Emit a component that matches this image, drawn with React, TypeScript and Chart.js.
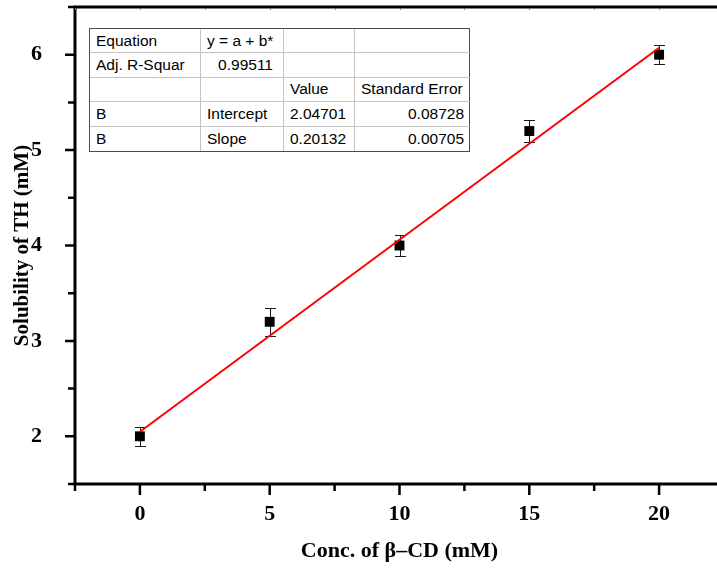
import React, { useEffect, useRef } from "react";
import { Chart, registerables } from "chart.js";

Chart.register(...registerables);

// ---- data ----
const concentrations = [0, 5, 10, 15, 20];
const solubility = [2.0, 3.2, 4.0, 5.2, 6.0];
const solubilityError = [0.1, 0.15, 0.11, 0.12, 0.1];
const fitX = [0, 20];
const fitY = [2.04701, 6.07341];
const xMajorTicks = [0, 5, 10, 15, 20];
const xMinorTicks = [-2.5, 2.5, 7.5, 12.5, 17.5, 22.5];
const yMajorTicks = [2, 3, 4, 5, 6];
const yMinorTicks = [1.5, 2.5, 3.5, 4.5, 5.5, 6.5];
const xTitle = "Conc. of β–CD (mM)";
const yTitle = "Solubility of TH (mM)";
const tableRows = [
  ["Equation", "y = a + b*", "", ""],
  ["Adj. R-Squar", "0.99511", "", ""],
  ["", "", "Value", "Standard Error"],
  ["B", "Intercept", "2.04701", "0.08728"],
  ["B", "Slope", "0.20132", "0.00705"],
];
const tableAlign = [
  ["left", "left", "left", "left"],
  ["left", "right", "left", "left"],
  ["left", "left", "left", "left"],
  ["left", "left", "left", "right"],
  ["left", "left", "left", "right"],
];

const SERIF = "'Liberation Serif', 'Times New Roman', serif";

const originAxes = {
  id: "originAxes",
  beforeDatasetsDraw(chart: any) {
    const { ctx, scales } = chart;
    const x = scales.x;
    const y = scales.y;
    ctx.save();
    ctx.strokeStyle = "#1a1a1a";
    ctx.lineWidth = 1;
    concentrations.forEach((cx, i) => {
      const px = Math.round(x.getPixelForValue(cx)) + 0.5;
      const top = Math.round(y.getPixelForValue(solubility[i] + solubilityError[i])) + 0.5;
      const bot = Math.round(y.getPixelForValue(solubility[i] - solubilityError[i])) + 0.5;
      ctx.beginPath();
      ctx.moveTo(px, top);
      ctx.lineTo(px, bot);
      ctx.moveTo(px - 5.5, top);
      ctx.lineTo(px + 5.5, top);
      ctx.moveTo(px - 5.5, bot);
      ctx.lineTo(px + 5.5, bot);
      ctx.stroke();
    });
    ctx.restore();
  },
  afterDraw(chart: any) {
    const { ctx, chartArea: a, scales } = chart;
    const x = scales.x;
    const y = scales.y;
    ctx.save();
    ctx.strokeStyle = "#000";
    // frame
    ctx.lineWidth = 3;
    ctx.beginPath();
    ctx.moveTo(a.left, a.top - 1.5);
    ctx.lineTo(a.left, a.bottom + 1.5);
    ctx.moveTo(a.left - 1.5, a.bottom);
    ctx.lineTo(a.right + 1.5, a.bottom);
    ctx.moveTo(a.right, a.bottom);
    ctx.lineTo(a.right, a.top);
    ctx.moveTo(a.right + 1.5, a.top);
    ctx.lineTo(a.left - 1.5, a.top);
    ctx.stroke();
    // bottom ticks
    ctx.lineWidth = 2.5;
    ctx.beginPath();
    xMajorTicks.forEach((v) => {
      const px = x.getPixelForValue(v);
      ctx.moveTo(px, a.bottom);
      ctx.lineTo(px, a.bottom + 11);
    });
    xMinorTicks.forEach((v) => {
      const px = x.getPixelForValue(v);
      ctx.moveTo(px, a.bottom);
      ctx.lineTo(px, a.bottom + 7);
    });
    // left ticks
    yMajorTicks.forEach((v) => {
      const py = y.getPixelForValue(v);
      ctx.moveTo(a.left, py);
      ctx.lineTo(a.left - 10, py);
    });
    yMinorTicks.forEach((v) => {
      const py = y.getPixelForValue(v);
      ctx.moveTo(a.left, py);
      ctx.lineTo(a.left - 7, py);
    });
    ctx.stroke();
    // faint top ticks
    ctx.strokeStyle = "#777";
    ctx.lineWidth = 1;
    ctx.beginPath();
    [...xMajorTicks, ...xMinorTicks].forEach((v) => {
      const px = Math.round(x.getPixelForValue(v)) + 0.5;
      ctx.moveTo(px, a.top + 1);
      ctx.lineTo(px, a.top + 3);
    });
    ctx.stroke();
    ctx.restore();
  },
};

function ResultTable() {
  const colWidths = [111, 83, 71, 115];
  return (
    <div
      style={{
        position: "absolute",
        left: 89,
        top: 28,
        width: 381,
        height: 124,
        boxSizing: "border-box",
        border: "1px solid #4a4a4a",
        background: "#fff",
        display: "grid",
        gridTemplateColumns: colWidths.map((w) => w + "px").join(" "),
        gridTemplateRows: "repeat(5, 1fr)",
        fontFamily: "'Liberation Sans', Arial, sans-serif",
        fontSize: 15.5,
        color: "#000",
      }}
    >
      {tableRows.map((row, r) =>
        row.map((cell, c) => (
          <div
            key={r + "-" + c}
            style={{
              boxSizing: "border-box",
              borderRight: c < 3 ? "1px solid #c4c4c4" : "none",
              borderBottom: r < 4 ? "1px solid #c4c4c4" : "none",
              display: "flex",
              alignItems: "center",
              justifyContent: tableAlign[r][c] === "right" ? "flex-end" : "flex-start",
              paddingLeft: c === 3 ? 6 : 6,
              paddingRight: c === 1 ? 10 : 6,
              whiteSpace: "nowrap",
              overflow: "hidden",
            }}
          >
            {cell}
          </div>
        ))
      )}
    </div>
  );
}

export default function App() {
  const canvasRef = useRef<HTMLCanvasElement | null>(null);

  useEffect(() => {
    const canvas = canvasRef.current;
    if (!canvas) return;
    const chart = new Chart(canvas, {
      type: "scatter",
      data: {
        datasets: [
          {
            label: "Linear fit",
            type: "line",
            data: fitX.map((v, i) => ({ x: v, y: fitY[i] })),
            borderColor: "#ff0000",
            borderWidth: 2,
            pointRadius: 0,
            fill: false,
            order: 0,
          } as any,
          {
            label: "Solubility",
            data: concentrations.map((v, i) => ({ x: v, y: solubility[i] })),
            pointStyle: "rect",
            pointRadius: 7,
            pointBorderWidth: 0,
            backgroundColor: "#000",
            borderColor: "#000",
            order: 1,
          },
        ],
      },
      options: {
        animation: false,
        responsive: false,
        devicePixelRatio: 1,
        layout: { padding: { top: 7, right: 16, left: 0, bottom: 0 } },
        plugins: { legend: { display: false }, tooltip: { enabled: false } },
        scales: {
          x: {
            type: "linear",
            min: -2.5,
            max: 22.5,
            grid: { display: false },
            border: { display: false },
            afterBuildTicks: (scale: any) => {
              scale.ticks = xMajorTicks.map((v) => ({ value: v }));
            },
            afterFit: (scale: any) => {
              scale.height = 87;
              scale.paddingLeft = 0;
              scale.paddingRight = 0;
            },
            ticks: {
              color: "#000",
              padding: 9,
              font: { family: SERIF, size: 22, weight: "bold" },
            },
            title: {
              display: true,
              text: xTitle,
              color: "#000",
              padding: { top: 0, bottom: 6 },
              font: { family: SERIF, size: 22, weight: "bold" },
            },
          },
          y: {
            type: "linear",
            min: 1.5,
            max: 6.5,
            grid: { display: false },
            border: { display: false },
            afterBuildTicks: (scale: any) => {
              scale.ticks = yMajorTicks.map((v) => ({ value: v }));
            },
            afterFit: (scale: any) => {
              scale.width = 75;
              scale.paddingTop = 0;
              scale.paddingBottom = 0;
            },
            ticks: {
              color: "#000",
              padding: 25,
              font: { family: SERIF, size: 22, weight: "bold" },
            },
            title: {
              display: true,
              text: yTitle,
              color: "#000",
              padding: { top: 10, bottom: 0 },
              font: { family: SERIF, size: 21, weight: "bold" },
            },
          },
        },
      } as any,
      plugins: [originAxes],
    });
    return () => chart.destroy();
  }, []);

  return (
    <div
      style={{
        position: "absolute",
        left: 0,
        top: 0,
        width: 717,
        height: 571,
        overflow: "hidden",
        background: "#fff",
      }}
    >
      <canvas ref={canvasRef} width={740} height={571} style={{ display: "block" }} />
      <ResultTable />
    </div>
  );
}
